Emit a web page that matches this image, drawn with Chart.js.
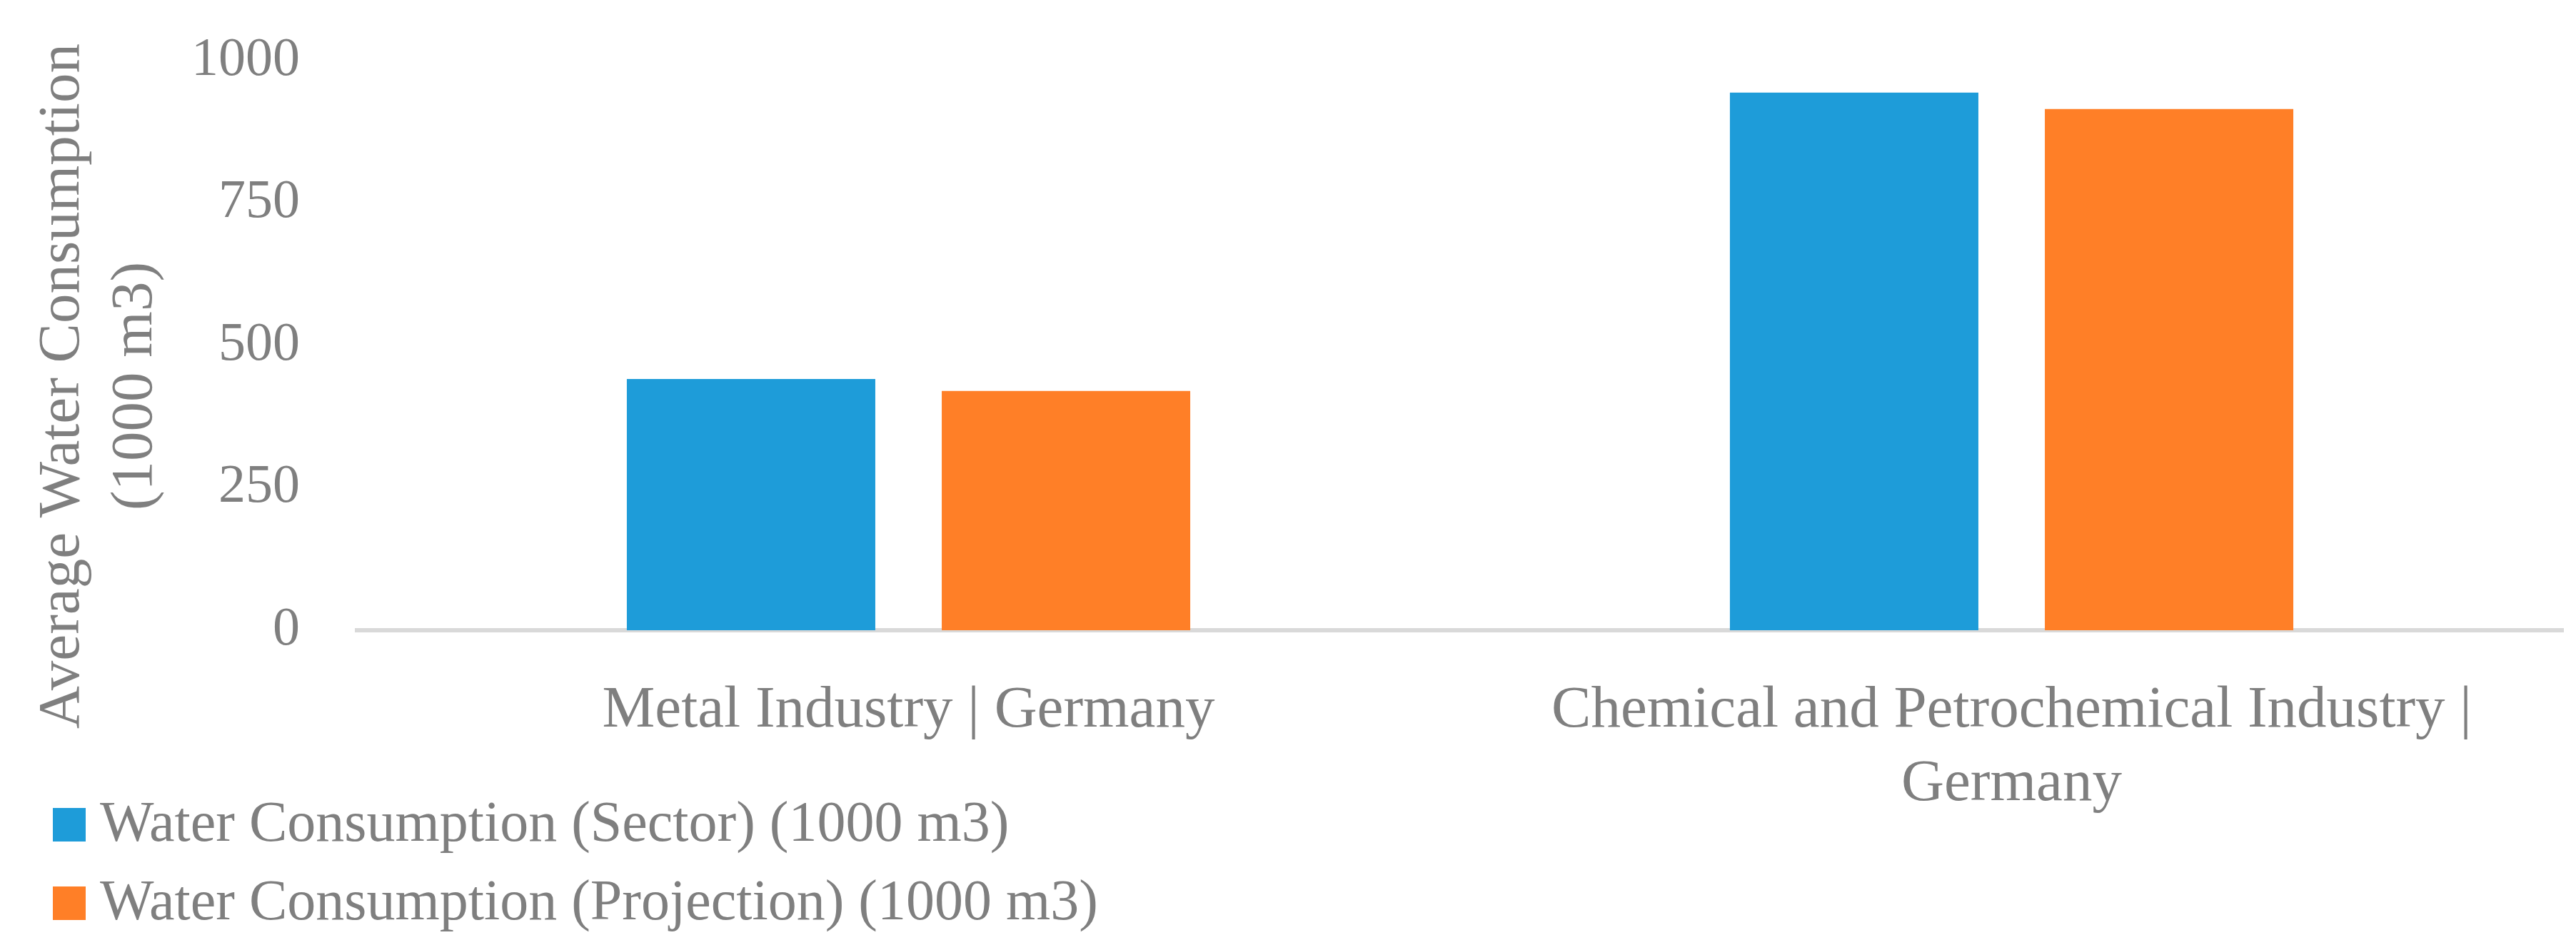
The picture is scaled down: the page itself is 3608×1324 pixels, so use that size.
<!DOCTYPE html>
<html>
<head>
<meta charset="utf-8">
<script src="https://cdn.jsdelivr.net/npm/chart.js@4.4.1/dist/chart.umd.min.js"></script>
<style>
  html, body { margin: 0; padding: 0; background: #ffffff; }
  #wrap { width: 3608px; height: 1324px; position: relative; }
</style>
</head>
<body>
<div id="wrap"><canvas id="c" width="3608" height="1324"></canvas></div>
<script>
// ---- data ----
const categories = [
  ["Metal Industry | Germany"],
  ["Chemical and Petrochemical Industry |", "Germany"]
];
const seriesNames = [
  "Water Consumption (Sector) (1000 m3)",
  "Water Consumption (Projection) (1000 m3)"
];
const sectorValues = [441, 944];
const projectionValues = [420, 915];
const yTicks = [0, 250, 500, 750, 1000];
const yTitleLines = ["Average Water Consumption", "(1000 m3)"];

// ---- styles ----
const FONT = "'Liberation Serif', 'Times New Roman', serif";
const GRAY = "#7f7f7f";
const BLUE = "#1e9cd9";
const ORANGE = "#ff7f27";

const overlayPlugin = {
  id: 'overlay',
  afterDraw(chart) {
    const ctx = chart.ctx;
    ctx.save();
    // y-axis title (two lines, rotated)
    ctx.fillStyle = GRAY;
    ctx.font = "83px " + FONT;
    ctx.textAlign = 'center';
    ctx.textBaseline = 'alphabetic';
    const cy = 541;
    const baselines = [110, 212];
    yTitleLines.forEach((t, i) => {
      ctx.save();
      ctx.translate(baselines[i], cy);
      ctx.rotate(-Math.PI / 2);
      ctx.fillText(t, 0, 0);
      ctx.restore();
    });
    // legend (stacked vertically)
    ctx.font = "80px " + FONT;
    ctx.textAlign = 'left';
    const rows = [{top: 1132, base: 1178}, {top: 1242, base: 1288}];
    chart.data.datasets.forEach((ds, i) => {
      ctx.fillStyle = ds.backgroundColor;
      ctx.fillRect(74, rows[i].top, 46, 47);
      ctx.fillStyle = GRAY;
      ctx.fillText(ds.label, 140, rows[i].base);
    });
    ctx.restore();
  }
};

new Chart(document.getElementById('c'), {
  type: 'bar',
  data: {
    labels: categories,
    datasets: [
      { label: seriesNames[0], data: sectorValues, backgroundColor: BLUE,
        categoryPercentage: 0.571, barPercentage: 0.789 },
      { label: seriesNames[1], data: projectionValues, backgroundColor: ORANGE,
        categoryPercentage: 0.571, barPercentage: 0.789 }
    ]
  },
  options: {
    responsive: false,
    animation: false,
    devicePixelRatio: 1,
    layout: { padding: { left: 0, right: 18, top: 85, bottom: 0 } },
    plugins: {
      legend: { display: false },
      tooltip: { enabled: false },
      title: { display: false }
    },
    scales: {
      x: {
        grid: { display: false, drawTicks: false },
        border: { display: true, color: '#d9d9d9', width: 6 },
        ticks: {
          color: GRAY,
          font: { family: FONT, size: 83, lineHeight: 1.24 },
          padding: 62,
          maxRotation: 0,
          autoSkip: false
        },
        afterFit(scale) { scale.height = 441; scale.paddingLeft = 0; scale.paddingRight = 0; }
      },
      y: {
        min: 0,
        max: 1000,
        afterBuildTicks(scale) { scale.ticks = yTicks.map(v => ({ value: v })); },
        grid: { display: false, drawTicks: false },
        border: { display: false },
        ticks: {
          color: GRAY,
          font: { family: FONT, size: 76 },
          padding: 80,
          callback: (v) => String(v)
        },
        afterFit(scale) { scale.width = 500; scale.paddingTop = 0; scale.paddingBottom = 0; }
      }
    }
  },
  plugins: [overlayPlugin]
});
</script>
</body>
</html>
